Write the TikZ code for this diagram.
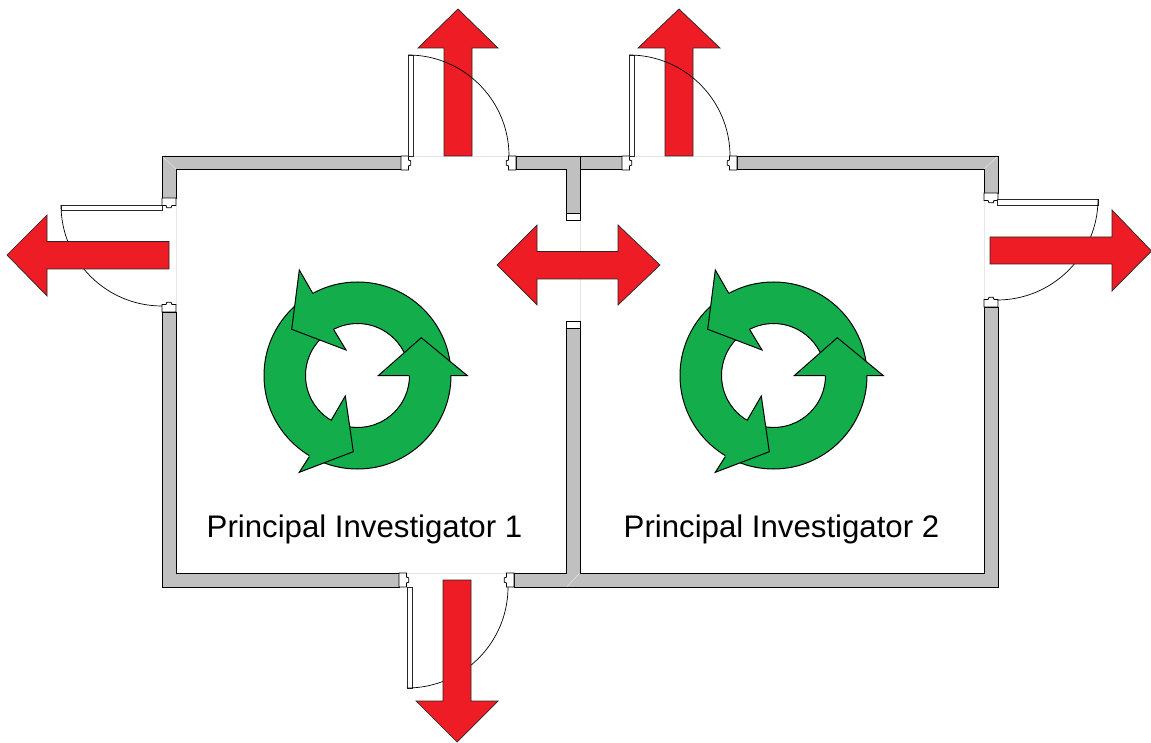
\documentclass[tikz,border=0pt]{standalone}
\usepackage{fontspec}
\setmainfont{Liberation Sans}
\definecolor{wallgray}{HTML}{C0C0C0}
\definecolor{arrowred}{HTML}{EE1C25}
\definecolor{cyclegreen}{HTML}{13AE4B}
\definecolor{hair}{HTML}{E6E6E6}
\tikzset{
  wallpart/.style={fill=wallgray,draw=black,line width=0.8pt,line join=miter},
  jambpart/.style={fill=white,draw=black,line width=0.8pt,line join=miter},
  leafpart/.style={fill=white,draw=black!85,line width=0.8pt},
  swing/.style={draw=black,line width=0.7pt},
  hairline/.style={draw=hair,line width=0.7pt},
  exitarrow/.style={fill=arrowred,draw=black!85,line width=0.7pt,line join=miter},
  cyclefill/.style={fill=cyclegreen,draw=black,line width=1pt},
  cyclehead/.style={fill=cyclegreen,draw=none},
  cycleedge/.style={draw=black,line width=1pt,line join=miter},
  roomlabel/.style={font=\fontsize{31.2}{36}\selectfont,anchor=base,inner sep=0pt}
}
% origin x, origin y, u vector (into the opening), v vector (across the wall), all in image pixels
\newcommand\doorjamb[6]{%
  \begin{scope}[shift={(#1,#2)},x={(#3pt,-#4pt)},y={(#5pt,-#6pt)}]
    \draw[jambpart] (0,0) -- (7.5,0) -- (7.5,4) -- (9.8,4.8) -- (9.8,9) -- (7.5,10) -- (7.5,14) -- (0,14) -- cycle;
  \end{scope}}
\begin{document}
\begin{tikzpicture}[x=1pt,y=-1pt]
\useasboundingbox (0,0) rectangle (1151,743);
% door thresholds (hairlines)
\draw[hairline] (408,156) -- (509,156);
\draw[hairline] (629,156) -- (730,156);
\draw[hairline] (176,206) -- (176,305);
\draw[hairline] (984,200) -- (984,300);
\draw[hairline] (407,573) -- (507,573);
\draw[hairline] (580.5,220) -- (580.5,321);
% walls
\draw[wallpart] (162,198) -- (162,156) -- (401,156) -- (401,169) -- (176,169) -- (176,198) -- cycle;
\draw[wallpart] (516,156) -- (622,156) -- (622,169) -- (580,169) -- (580,213) -- (566,213) -- (566,169) -- (516,169) -- cycle;
\draw[black,line width=0.7pt] (580,156) -- (580,169);
\draw[wallpart] (737,156) -- (998,156) -- (998,193) -- (984,193) -- (984,169) -- (737,169) -- cycle;
\draw[wallpart] (984,307) -- (998,307) -- (998,587) -- (514,587) -- (514,573) -- (566,573) -- (566,328) -- (580,328) -- (580,573) -- (984,573) -- cycle;
\draw[wallpart] (162,312) -- (176,312) -- (176,573) -- (399,573) -- (399,587) -- (162,587) -- cycle;
% mitre hairlines
\draw[hairline,line width=0.5pt] (163,157) -- (176,169);
\draw[hairline,line width=0.5pt] (997,157) -- (984,169);
\draw[hairline,line width=0.5pt] (579.5,573.5) -- (567,586.5);
% middle wall ends
\draw[jambpart] (566,213) rectangle (580,220);
\draw[jambpart] (566,321) rectangle (580,328);
% door jambs
\doorjamb{401}{156}{1}{0}{0}{1}
\doorjamb{516}{156}{-1}{0}{0}{1}
\doorjamb{622}{156}{1}{0}{0}{1}
\doorjamb{737}{156}{-1}{0}{0}{1}
\doorjamb{162}{198}{0}{1}{1}{0}
\doorjamb{162}{312}{0}{-1}{1}{0}
\doorjamb{998}{193}{0}{1}{-1}{0}
\doorjamb{998}{307}{0}{-1}{-1}{0}
\doorjamb{399}{587}{1}{0}{0}{-1}
\doorjamb{514}{587}{-1}{0}{0}{-1}
% door leaves
\draw[leafpart] (408,55) rectangle (413.5,156);
\draw[leafpart] (629,55) rectangle (634.5,156);
\draw[leafpart] (61,205) rectangle (162,210.5);
\draw[leafpart] (997,199) rectangle (1098,205);
\draw[leafpart] (407,587) rectangle (412.5,688);
% swings under the arrows
\draw[swing] (61,205) arc[start angle=180,end angle=270,radius=101pt];
\draw[swing] (1098,199) arc[start angle=0,end angle=-90,radius=101pt];
\draw[swing] (407,688) arc[start angle=270,end angle=360,radius=101pt];
% exit arrows
\draw[exitarrow] (444,156) -- (444,48) -- (418,48) -- (458,9) -- (498,48) -- (472,48) -- (472,156) -- cycle;
\draw[exitarrow] (665,156) -- (665,48) -- (638,48) -- (679,9) -- (720,48) -- (693,48) -- (693,156) -- cycle;
\draw[exitarrow] (169,241.5) -- (47,241.5) -- (47,215) -- (7,255) -- (47,296) -- (47,269) -- (169,269) -- cycle;
\draw[exitarrow] (990,237) -- (1112,237) -- (1112,210) -- (1151.5,251) -- (1112,291) -- (1112,264) -- (990,264) -- cycle;
\draw[exitarrow] (443,580) -- (443,701) -- (416,701) -- (457,742) -- (498,701) -- (471,701) -- (471,580) -- cycle;
\draw[exitarrow] (497,265) -- (537,225) -- (537,251.5) -- (618,251.5) -- (618,225) -- (660,265) -- (618,305) -- (618,279) -- (537,279) -- (537,305) -- cycle;
% swings over the arrows
\draw[swing] (408,55) arc[start angle=90,end angle=0,radius=101pt];
\draw[swing] (629,55) arc[start angle=90,end angle=0,radius=101pt];
% circulation rings
\foreach \dx in {0,416}{
\begin{scope}[xshift=\dx pt]
  \draw[cyclefill,even odd rule] (357.5,375.5) circle[radius=93.5pt] (357.5,375.5) circle[radius=52pt];
  \fill[cyclehead] (378.3,375.6) -- (421.3,337.7) -- (467.3,375.6) -- cycle;
  \draw[cycleedge] (409,375.6) -- (378.3,375.6) -- (421.3,337.7) -- (467.3,375.6) -- (450.5,375.6);
  \fill[cyclehead] (345.3,396) -- (353.3,451.7) -- (299.3,472.3) -- cycle;
  \draw[cycleedge] (331,420.7) -- (345.3,396) -- (353.3,451.7) -- (299.3,472.3) -- (309.3,456.7);
  \fill[cyclehead] (346,350) -- (291.7,329.3) -- (299.3,270) -- cycle;
  \draw[cycleedge] (333.3,329) -- (346,350) -- (291.7,329.3) -- (299.3,270) -- (312.7,293.3);
\end{scope}}
% labels
\node[roomlabel] (pione) at (364.5,537) {Principal Investigator 1};
\node[roomlabel] (pitwo) at (781.5,537) {Principal Investigator 2};
\end{tikzpicture}
\end{document}
